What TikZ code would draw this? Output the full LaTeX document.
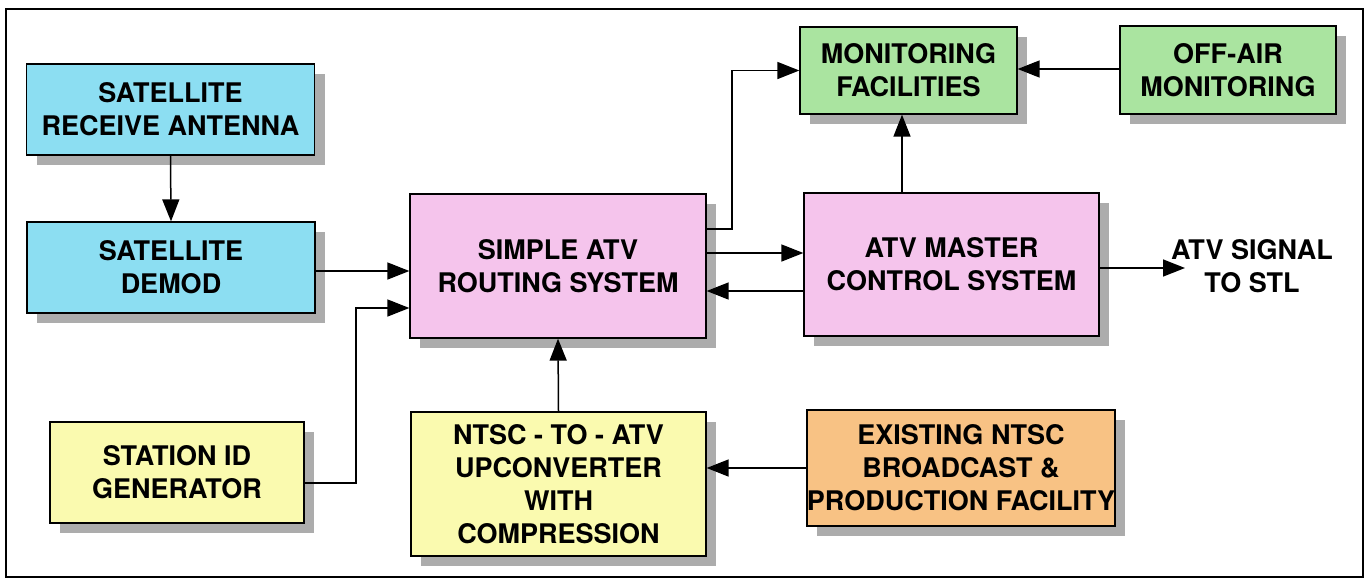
\documentclass[tikz,border=0pt]{standalone}
\usepackage{fontspec}
\setmainfont{TeX Gyre Heros}
\usetikzlibrary{arrows.meta,shadows}
\definecolor{cyanc}{RGB}{140,222,242}
\definecolor{pinkc}{RGB}{245,196,236}
\definecolor{greenc}{RGB}{170,228,160}
\definecolor{yellowc}{RGB}{250,250,175}
\definecolor{orangec}{RGB}{248,194,132}
\definecolor{shadowc}{RGB}{172,172,172}
\tikzset{
  blk/.style={draw=black, line width=1.3pt, inner sep=0pt, align=center,
    font=\fontsize{27}{33}\selectfont\bfseries,
    drop shadow={shadow xshift=10pt, shadow yshift=-10pt, fill=shadowc, opacity=1}},
  lbl/.style={inner sep=0pt, align=center, font=\fontsize{27}{33}\selectfont\bfseries},
  arr/.style={line width=1.5pt, -{Triangle[length=22pt,width=17pt]}},
  ln/.style={line width=1.5pt}
}
\begin{document}
\begin{tikzpicture}[x=1pt,y=-1pt]
\useasboundingbox (0,0) rectangle (1368,579);
\draw[line width=1.2pt] (6,9) rectangle (1363,577);
\node[blk, fill=cyanc, minimum width=288pt, minimum height=91pt] (ant) at (170.5,109.5) {SATELLITE\\RECEIVE ANTENNA};
\node[blk, fill=cyanc, minimum width=288pt, minimum height=91pt] (demod) at (171,267.5) {SATELLITE\\DEMOD};
\node[blk, fill=yellowc, minimum width=254pt, minimum height=101pt] (sid) at (177,472.5) {STATION ID\\GENERATOR};
\node[blk, fill=pinkc, minimum width=296pt, minimum height=144pt] (route) at (558,266) {SIMPLE ATV\\ROUTING SYSTEM};
\node[blk, fill=yellowc, minimum width=295pt, minimum height=144pt] (ntsc) at (558.5,484) {NTSC - TO - ATV\\UPCONVERTER\\WITH\\COMPRESSION};
\node[blk, fill=pinkc, minimum width=295pt, minimum height=143pt] (master) at (951.5,264.5) {ATV MASTER\\CONTROL SYSTEM};
\node[blk, fill=greenc, minimum width=217pt, minimum height=87pt] (mon) at (908.5,70.5) {MONITORING\\FACILITIES};
\node[blk, fill=greenc, minimum width=216pt, minimum height=88pt] (offair) at (1228,70) {OFF-AIR\\MONITORING};
\node[blk, fill=orangec, minimum width=308pt, minimum height=116pt] (exist) at (961,468) {EXISTING NTSC\\BROADCAST \&\\PRODUCTION FACILITY};
\node[lbl] (stl) at (1252,266) {ATV SIGNAL\\TO STL};
\coordinate (stlin) at (1185,268);
\coordinate (sidbend) at (356,483);
\coordinate (monbend) at (732,229);
% connectors
\draw[arr] (ant.south) -- (demod.north);
\draw[arr] (demod.east |- 0,271) -- (route.west |- 0,271);
\draw[arr] (sid.east |- sidbend) -- (sidbend) |- (route.west |- 0,308);
\draw[arr] (ntsc.north) -- (route.south);
\draw[arr] (route.east |- monbend) -- (monbend) |- (mon.west);
\draw[arr] (route.east |- 0,253) -- (master.west |- 0,253);
\draw[arr] (master.west |- 0,291) -- (route.east |- 0,291);
\draw[arr] (master.north -| 902,0) -- (mon.south -| 902,0);
\draw[arr] (offair.west |- 0,69) -- (mon.east |- 0,69);
\draw[arr] (master.east |- stlin) -- (stlin);
\draw[arr] (exist.west) -- (ntsc.east |- exist.west);
\end{tikzpicture}
\end{document}
